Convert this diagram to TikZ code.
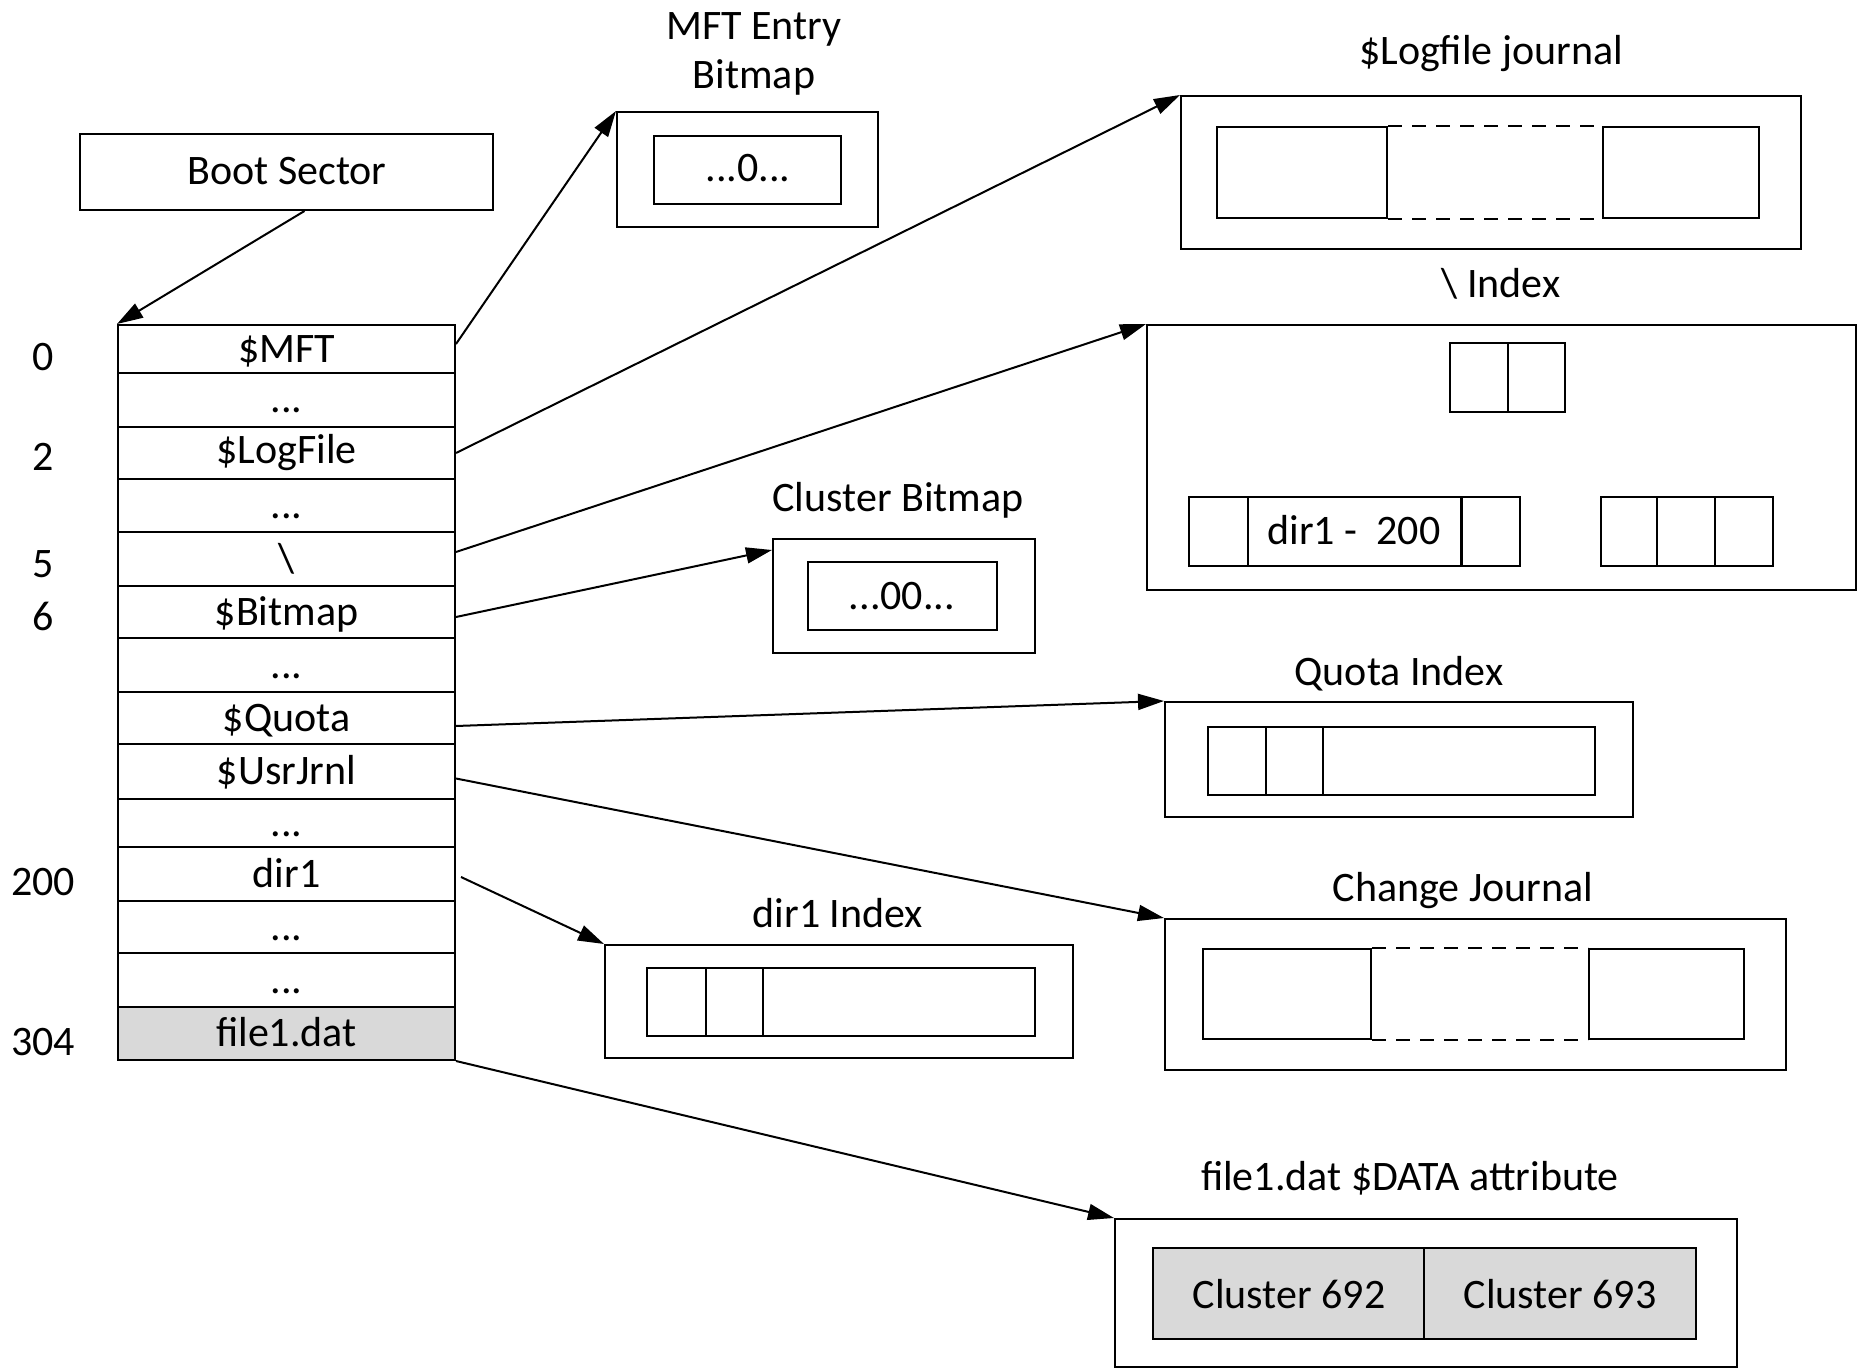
\documentclass[tikz,border=0pt]{standalone}
\usepackage{fontspec}
\setmainfont{Carlito}
\usetikzlibrary{fit,arrows.meta}
\definecolor{cellgray}{HTML}{D9D9D9}
\newcommand\gapdots{...}
\tikzset{
  box/.style={draw, line width=1pt, inner sep=0pt, fit={#1}},
  txt/.style={anchor=base, inner sep=0pt},
  conn/.style={line width=1pt, -{Triangle[length=13pt,width=8pt]}},
  seam/.style={line width=1pt, dash pattern=on 7pt off 5pt},
  divider/.style={line width=1pt}
}
\begin{document}
\begin{tikzpicture}[x=0.5pt,y=-0.5pt,font=\fontsize{21}{25}\selectfont]
\useasboundingbox (0,0) rectangle (1858,1369);

% boot sector
\node[box={(80,134)(493,210)}] (boot) {};
\node[txt] (boottxt) at (287,185) {Boot Sector};

% MFT table rows
\node[box={(118,1007)(455,1060)}, fill=cellgray] (r14) {};
\foreach \ya/\yb/\yt/\t [count=\i] in {
  325/373/363/\$MFT, 373/427/413/\gapdots, 427/479/464/\$LogFile,
  479/532/518/\gapdots, 532/586/572/\textbackslash, 586/638/625/\$Bitmap,
  638/692/678/\gapdots, 692/744/731/\$Quota, 744/799/784/\$UsrJrnl,
  799/847/836/\gapdots, 847/901/887/dir1, 901/953/940/\gapdots,
  953/1007/993/\gapdots, 1007/1060/1046/file1.dat} {
  \node[box={(118,\ya)(455,\yb)}] (r\i) {};
  \node[txt] (t\i) at (286.5,\yt) {\t};
}

% record numbers
\node[txt] (n0) at (43,371) {0};
\node[txt] (n2) at (43,471) {2};
\node[txt] (n5) at (43,577) {5};
\node[txt] (n6) at (43,630) {6};
\node[txt] (n200) at (43,895) {200};
\node[txt] (n304) at (43,1055) {304};

% MFT entry bitmap
\node[txt] (mbt1) at (754,40) {MFT Entry};
\node[txt] (mbt2) at (754,89) {Bitmap};
\node[box={(617,112)(878,227)}] (mb) {};
\node[box={(654,136)(841,204)}] (mbi) {};
\node[txt] (mbv) at (748,182) {...0...};

% $Logfile journal
\node[txt] (lgt) at (1491,65) {\$Logfile journal};
\node[box={(1181,96)(1801,249)}] (lg) {};
\node[box={(1217,127)(1387,218)}] (lga) {};
\node[box={(1603,127)(1759,218)}] (lgb) {};
\draw[seam] (lga.north east) -- (lgb.north west);
\draw[seam] (lga.south east) -- (lgb.south west);

% root index
\node[txt] (ixt) at (1501,298) {\textbackslash{} Index};
\node[box={(1147,325)(1856,590)}] (ix) {};
\node[box={(1450,343)(1565,412)}] (ixr) {};
\draw[divider] (1508,343) -- (1508,412);
\node[box={(1189,497)(1461,566)}] (ixa) {};
\draw[divider] (1248,497) -- (1248,566);
\node[box={(1462,497)(1520,566)}] (ixb) {};
\node[txt] (ixv) at (1354,545) {dir1 - \ 200};
\node[box={(1601,497)(1773,566)}] (ixc) {};
\draw[divider] (1657,497) -- (1657,566);
\draw[divider] (1715,497) -- (1715,566);

% cluster bitmap
\node[txt] (cbt) at (898,511) {Cluster Bitmap};
\node[box={(773,539)(1035,653)}] (cb) {};
\node[box={(808,562)(997,630)}] (cbi) {};
\node[txt] (cbv) at (902,609) {...00...};

% quota index
\node[txt] (qit) at (1399,685) {Quota Index};
\node[box={(1165,702)(1633,817)}] (qi) {};
\node[box={(1208,727)(1595,795)}] (qii) {};
\draw[divider] (1266,727) -- (1266,795);
\draw[divider] (1323,727) -- (1323,795);

% change journal
\node[txt] (cjt) at (1463,901) {Change Journal};
\node[box={(1165,919)(1786,1070)}] (cj) {};
\node[box={(1203,949)(1371,1039)}] (cja) {};
\node[box={(1589,949)(1744,1039)}] (cjb) {};
\draw[seam] (cja.north east) -- (cjb.north west);
\draw[seam] (cja.south east) -- (cjb.south west);

% dir1 index
\node[txt] (dit) at (838,927) {dir1 Index};
\node[box={(605,945)(1073,1058)}] (di) {};
\node[box={(647,968)(1035,1036)}] (dii) {};
\draw[divider] (706,968) -- (706,1036);
\draw[divider] (763,968) -- (763,1036);

% file1.dat data attribute
\node[txt] (dat) at (1410,1190) {file1.dat \$DATA attribute};
\node[box={(1115,1219)(1737,1367)}] (da) {};
\node[box={(1153,1248)(1424,1339)}, fill=cellgray] (c692) {};
\node[box={(1424,1248)(1696,1339)}, fill=cellgray] (c693) {};
\node[txt] (c692t) at (1289,1308) {Cluster 692};
\node[txt] (c693t) at (1560,1308) {Cluster 693};

% pointers
\draw[conn] ([xshift=9pt]boot.south) -- (r1.north west);
\draw[conn] ([yshift=2.5pt]r1.east) -- (mb.north west);
\draw[conn] (r3.east) -- (lg.north west);
\draw[conn] ([yshift=3.5pt]r5.east) -- (ix.north west);
\draw[conn] ([yshift=-2.5pt]r6.east) -- ([yshift=-6pt]cb.north west);
\draw[conn] ([yshift=-4pt]r8.east) -- (qi.north west);
\draw[conn] ([yshift=-3.5pt]r9.east) -- (cj.north west);
\draw[conn] ([xshift=2.5pt,yshift=-1.5pt]r11.east) -- (di.north west);
\draw[conn] (r14.south east) -- (da.north west);
\end{tikzpicture}
\end{document}
